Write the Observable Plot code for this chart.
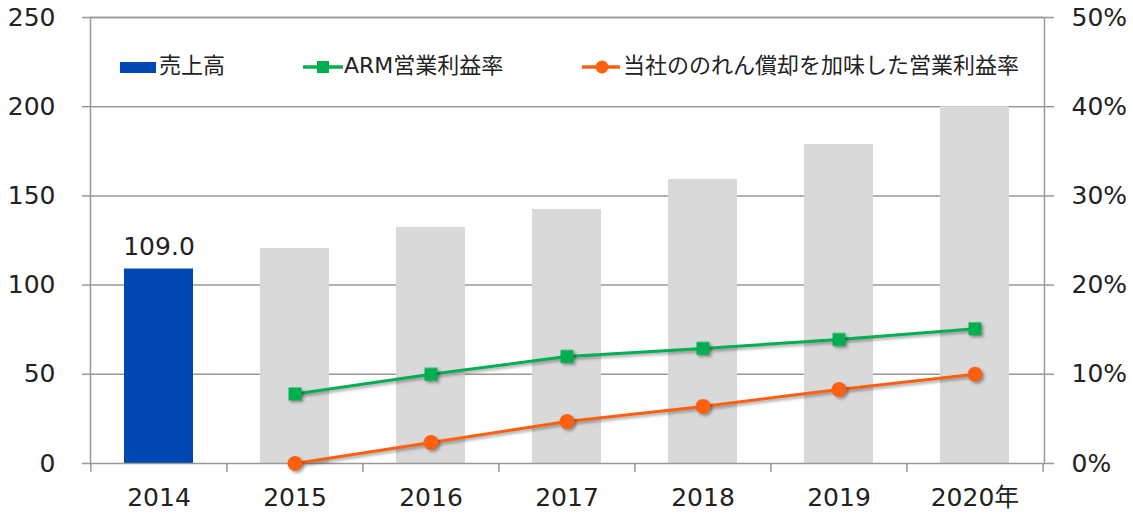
<!DOCTYPE html>
<html>
<head>
<meta charset="utf-8">
<script src="https://cdn.jsdelivr.net/npm/d3@7"></script>
<script src="https://cdn.jsdelivr.net/npm/@observablehq/plot@0.6"></script>
<style>
  html, body { margin: 0; padding: 0; background: #fff; }
  #wrap { position: relative; width: 1133px; height: 514px; }
  #wrap svg { display: block; }
  g[aria-label="dot"], g[aria-label="line"] { filter: drop-shadow(2px 2px 1.5px rgba(0,0,0,0.35)); }
  .lg { position: absolute; font-family: "DejaVu Sans", "Noto Sans CJK JP", sans-serif; font-size: 22px; line-height: 22px; color: #222; white-space: nowrap; }
  .lgsw { position: absolute; }
</style>
</head>
<body>
<div id="wrap"></div>
<script>
// ---- data ----
const years = ["2014", "2015", "2016", "2017", "2018", "2019", "2020"];
const xLabels = ["2014", "2015", "2016", "2017", "2018", "2019", "2020年"];
const sales = [109.0, 120.5, 132.3, 142.4, 159.2, 178.8, 200.0];
const marginYears = ["2015", "2016", "2017", "2018", "2019", "2020"];
const armMargin = [7.8, 10.0, 12.0, 12.9, 13.9, 15.1];   // %
const ownMargin = [0.0, 2.35, 4.7, 6.4, 8.3, 10.0];      // %
const leftTicks = [0, 50, 100, 150, 200, 250];
const rightTickLabels = ["0%", "10%", "20%", "30%", "40%", "50%"];
const seriesNames = ["売上高", "ARM営業利益率", "当社ののれん償却を加味した営業利益率"];
const labeledYear = "2014";

// ---- styles ----
const BLUE = "#0047b3", GRAY = "#d9d9d9", GREEN = "#00b050", ORANGE = "#ff6010", AXIS = "#999";
const W = 1133, H = 514, ML = 90, MR = 89, MT = 17, MB = 51;
const FS = 25;
const step = (W - ML - MR) / years.length;
const pctToLeft = 250 / 50; // 50% maps to 250

const salesData = years.map((y, i) => ({year: y, value: sales[i]}));
const armData = marginYears.map((y, i) => ({year: y, v: armMargin[i]}));
const ownData = marginYears.map((y, i) => ({year: y, v: ownMargin[i]}));

const chart = Plot.plot({
  width: W, height: H,
  marginLeft: ML, marginRight: MR, marginTop: MT, marginBottom: MB,
  style: {fontFamily: "'DejaVu Sans', 'Noto Sans CJK JP', sans-serif", fontSize: FS + "px", color: "#222", background: "white"},
  x: {domain: years, paddingInner: 0.49, paddingOuter: 0.245, label: null},
  y: {domain: [0, 250], label: null},
  marks: [
    Plot.gridY(leftTicks.slice(1), {stroke: AXIS, strokeOpacity: 1, strokeWidth: 1.5}),
    Plot.barY(salesData, {x: "year", y: "value", fill: d => d.year === labeledYear ? BLUE : GRAY}),
    Plot.text(salesData.filter(d => d.year === labeledYear), {x: "year", y: "value", text: d => d.value.toFixed(1), dy: -22, fontSize: FS, fill: "#222"}),
    Plot.frame({stroke: AXIS, strokeWidth: 1.5}),
    Plot.axisY(leftTicks, {anchor: "left", tickSize: 8, tickPadding: 27, stroke: AXIS, strokeWidth: 1.5, fill: "#222", fontSize: FS, label: null}),
    Plot.axisY(leftTicks, {anchor: "right", tickSize: 9, tickPadding: 18, stroke: AXIS, strokeWidth: 1.5, fill: "#222", fontSize: FS, label: null,
      tickFormat: d => rightTickLabels[leftTicks.indexOf(d)]}),
    Plot.axisX({tickSize: 0, tickPadding: 25, fill: "#222", fontSize: FS, label: null,
      tickFormat: d => xLabels[years.indexOf(d)]}),
    Plot.axisX(years, {tickSize: 9, stroke: AXIS, strokeWidth: 1.5, tickFormat: () => "", dx: -step / 2, label: null}),
    Plot.axisX([years[years.length - 1]], {tickSize: 9, stroke: AXIS, strokeWidth: 1.5, tickFormat: () => "", dx: step / 2, label: null}),
    Plot.line(armData, {x: "year", y: d => d.v * pctToLeft, stroke: GREEN, strokeWidth: 3}),
    Plot.dot(armData, {x: "year", y: d => d.v * pctToLeft, symbol: "square", r: 7.3, fill: GREEN}),
    Plot.line(ownData, {x: "year", y: d => d.v * pctToLeft, stroke: ORANGE, strokeWidth: 3}),
    Plot.dot(ownData, {x: "year", y: d => d.v * pctToLeft, symbol: "circle", r: 7.5, fill: ORANGE})
  ]
});

const wrap = document.getElementById("wrap");
wrap.appendChild(chart);

// ---- legend (HTML overlay inside plot area) ----
function add(html) { wrap.insertAdjacentHTML("beforeend", html); }
add(`<div class="lgsw" style="left:120px;top:62px;width:36px;height:11px;background:${BLUE}"></div>`);
add(`<div class="lg" style="left:159px;top:55px">${seriesNames[0]}</div>`);
add(`<svg class="lgsw" style="left:302px;top:59px" width="42" height="16"><line x1="1" y1="8" x2="41" y2="8" stroke="${GREEN}" stroke-width="3.5"/><rect x="15" y="2" width="12" height="12" fill="${GREEN}"/></svg>`);
add(`<div class="lg" style="left:344px;top:55px">${seriesNames[1]}</div>`);
add(`<svg class="lgsw" style="left:581px;top:59px" width="42" height="16"><line x1="1" y1="8" x2="39" y2="8" stroke="${ORANGE}" stroke-width="3.5"/><circle cx="21" cy="8" r="6.5" fill="${ORANGE}"/></svg>`);
add(`<div class="lg" style="left:623px;top:55px">${seriesNames[2]}</div>`);
</script>
</body>
</html>
